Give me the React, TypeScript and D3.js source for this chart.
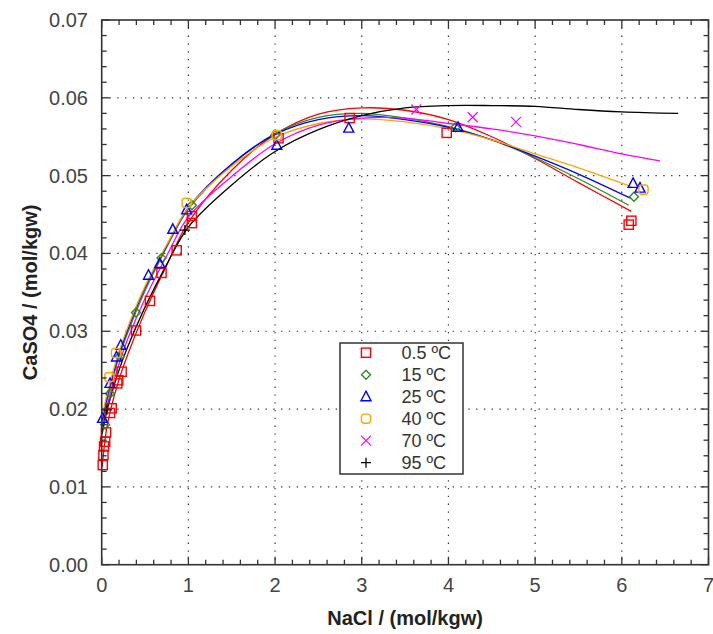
import React from "react";
import * as d3 from "d3";

const W = 713, H = 634;
const M = { left: 101.7, right: 708.5, top: 20, bottom: 564.7 };

const xTicks = [0, 1, 2, 3, 4, 5, 6, 7];
const yTicks = [0, 0.01, 0.02, 0.03, 0.04, 0.05, 0.06, 0.07];
const yTickLabels = ["0.00", "0.01", "0.02", "0.03", "0.04", "0.05", "0.06", "0.07"];

const seriesNames = ["0.5 ºC", "15 ºC", "25 ºC", "40 ºC", "70 ºC", "95 ºC"];
const seriesColors = ["#ff0000", "#2e8b22", "#0000ff", "#ffa500", "#ff00ff", "#000000"];
const seriesSymbols = ["square", "diamond", "triangle", "round", "x", "plus"];

// measured points [NaCl, CaSO4]
const pts05: [number, number][] = [
  [0.012, 0.0128], [0.02, 0.0141], [0.027, 0.0152], [0.04, 0.0158], [0.05, 0.017],
  [0.096, 0.0195], [0.115, 0.0201], [0.18, 0.0233], [0.19, 0.0237], [0.23, 0.0248],
  [0.396, 0.0301], [0.557, 0.0339], [0.69, 0.0375], [0.865, 0.0404], [1.04, 0.0439],
  [1.04, 0.0448], [2.04, 0.0548], [2.86, 0.0574], [3.98, 0.0555], [6.08, 0.0437], [6.11, 0.0442],
];
const pts15: [number, number][] = [
  [0.04, 0.018], [0.096, 0.022], [0.21, 0.0268], [0.396, 0.0324], [0.69, 0.0394],
  [1.04, 0.0462], [2.0, 0.0552], [4.08, 0.0562], [6.14, 0.0473],
];
const pts25: [number, number][] = [
  [0.01, 0.0188], [0.096, 0.0233], [0.17, 0.0267], [0.22, 0.0282], [0.54, 0.0372],
  [0.67, 0.0387], [0.82, 0.0431], [0.98, 0.0456], [2.02, 0.0539], [2.85, 0.0561],
  [4.11, 0.0562], [6.13, 0.049], [6.21, 0.0484],
];
const pts40: [number, number][] = [
  [0.088, 0.0241], [0.165, 0.0272], [0.98, 0.0465], [2.02, 0.0552], [6.25, 0.0482],
];
const pts70: [number, number][] = [
  [3.63, 0.0585], [4.28, 0.0575], [4.78, 0.0569],
];
const pts95: [number, number][] = [
  [0.06, 0.0199], [0.96, 0.043],
];
const seriesPoints = [pts05, pts15, pts25, pts40, pts70, pts95];

// model curves
const line05: [number, number][] = [
  [0.005, 0.0125], [0.05, 0.017], [0.1, 0.0198], [0.2, 0.0238], [0.3, 0.027], [0.5, 0.0325],
  [0.75, 0.0385], [1.0, 0.044], [1.5, 0.0507], [2.0, 0.0553], [2.5, 0.0579], [3.0, 0.0587],
  [3.5, 0.0584], [4.0, 0.0572], [4.5, 0.055], [5.0, 0.0522], [5.5, 0.0491], [6.11, 0.0454],
];
const line15: [number, number][] = [
  [0.005, 0.0178], [0.05, 0.0205], [0.1, 0.0228], [0.2, 0.0267], [0.3, 0.0298], [0.5, 0.0352],
  [0.75, 0.0408], [1.0, 0.0457], [1.5, 0.0514], [2.0, 0.0554], [2.5, 0.0575], [3.0, 0.058],
  [3.5, 0.0574], [4.0, 0.0563], [4.5, 0.0546], [5.0, 0.0523], [5.5, 0.0496], [6.08, 0.0462],
];
const line25: [number, number][] = [
  [0.005, 0.0185], [0.05, 0.021], [0.1, 0.0232], [0.2, 0.0271], [0.3, 0.0302], [0.5, 0.0356],
  [0.75, 0.041], [1.0, 0.0459], [1.5, 0.0515], [2.0, 0.0553], [2.5, 0.0572], [3.0, 0.0577],
  [3.5, 0.0572], [4.0, 0.0562], [4.5, 0.0546], [5.0, 0.0525], [5.5, 0.0502], [6.1, 0.0471],
];
const line40: [number, number][] = [
  [0.005, 0.019], [0.05, 0.0214], [0.1, 0.0236], [0.2, 0.0274], [0.3, 0.0305], [0.5, 0.0358],
  [0.75, 0.0411], [1.0, 0.0459], [1.5, 0.0512], [2.0, 0.0549], [2.5, 0.0567], [3.0, 0.0573],
  [3.5, 0.0569], [4.0, 0.056], [4.5, 0.0546], [5.0, 0.0528], [5.5, 0.051], [6.11, 0.0486],
];
const line70: [number, number][] = [
  [0.005, 0.0172], [0.05, 0.0198], [0.1, 0.022], [0.2, 0.0258], [0.3, 0.029], [0.5, 0.0342],
  [0.75, 0.0397], [1.0, 0.0447], [1.5, 0.0499], [2.0, 0.0541], [2.5, 0.0565], [3.0, 0.0574],
  [3.5, 0.0574], [4.0, 0.0567], [4.5, 0.056], [5.0, 0.0551], [5.5, 0.054], [6.0, 0.0528], [6.44, 0.0519],
];
const line95: [number, number][] = [
  [0.005, 0.0168], [0.05, 0.0193], [0.1, 0.0214], [0.2, 0.025], [0.3, 0.028], [0.5, 0.0331],
  [0.75, 0.0386], [1.0, 0.0434], [1.5, 0.0488], [2.0, 0.0531], [2.5, 0.0559], [3.0, 0.0577],
  [3.5, 0.0587], [4.0, 0.059], [4.5, 0.059], [5.0, 0.0589], [5.5, 0.0585], [6.0, 0.0582], [6.65, 0.058],
];
const seriesLines = [line05, line15, line25, line40, line70, line95];

const x = d3.scaleLinear().domain([0, 7]).range([M.left, M.right]);
const y = d3.scaleLinear().domain([0, 0.07]).range([M.bottom, M.top]);

function Marker({ sym, cx, cy, color }: { sym: string; cx: number; cy: number; color: string }) {
  const s = 4.6;
  const common = { fill: "none", stroke: color, strokeWidth: 1.4 };
  if (sym === "square") return <rect x={cx - s} y={cy - s} width={2 * s} height={2 * s} {...common} />;
  if (sym === "round") return <rect x={cx - s} y={cy - s} width={2 * s} height={2 * s} rx={3} {...common} />;
  if (sym === "diamond")
    return <path d={`M${cx},${cy - 4.5}L${cx + 4.5},${cy}L${cx},${cy + 4.5}L${cx - 4.5},${cy}Z`} {...common} />;
  if (sym === "triangle")
    return <path d={`M${cx},${cy - 5.5}L${cx + 5},${cy + 4}L${cx - 5},${cy + 4}Z`} {...common} />;
  if (sym === "x")
    return <path d={`M${cx - 5},${cy - 5}L${cx + 5},${cy + 5}M${cx - 5},${cy + 5}L${cx + 5},${cy - 5}`} {...common} strokeWidth={1.2} />;
  return <path d={`M${cx - 5},${cy}L${cx + 5},${cy}M${cx},${cy - 5}L${cx},${cy + 5}`} {...common} strokeWidth={1.3} />;
}

export default function App() {
  const line = d3
    .line<[number, number]>()
    .x((d) => x(d[0]))
    .y((d) => y(d[1]))
    .curve(d3.curveCatmullRom.alpha(0.5));

  const xMinor = d3.range(0, 7.0001, 0.2);
  const yMinor = d3.range(0, 0.07001, 0.002);
  const font = "'Liberation Sans', Arial, sans-serif";
  const axisColor = "#333";

  const legendX = 340, legendY = 343, legendW = 123, legendH = 131;

  return (
    <svg width={W} height={H} style={{ position: "absolute", left: 0, top: 0 }} fontFamily={font}>
      <rect width={W} height={H} fill="#fff" />
      {/* grid */}
      {xTicks.slice(1, -1).map((t) => (
        <line key={"gx" + t} x1={x(t)} x2={x(t)} y1={M.top} y2={M.bottom} stroke="#333" strokeWidth={1.2} strokeDasharray="1.3 6.5" />
      ))}
      {yTicks.slice(1, -1).map((t) => (
        <line key={"gy" + t} x1={M.left} x2={M.right} y1={y(t)} y2={y(t)} stroke="#333" strokeWidth={1.2} strokeDasharray="1.3 6.5" />
      ))}
      {/* curves */}
      {seriesLines.map((ln, i) => (
        <path key={"l" + i} d={line(ln) || ""} fill="none" stroke={seriesColors[i]} strokeWidth={1.3} />
      ))}
      {/* markers */}
      {seriesPoints.map((pts, i) =>
        pts.map((p, j) => (
          <Marker key={`m${i}-${j}`} sym={seriesSymbols[i]} cx={x(p[0])} cy={y(p[1])} color={seriesColors[i]} />
        ))
      )}
      {/* ticks */}
      {xMinor.map((t, i) => {
        const major = i % 5 === 0;
        const len = major ? 8 : 5;
        return (
          <g key={"xt" + i}>
            <line x1={x(t)} x2={x(t)} y1={M.bottom} y2={M.bottom - len} stroke={axisColor} strokeWidth={1.3} />
            <line x1={x(t)} x2={x(t)} y1={M.top} y2={M.top + len} stroke={axisColor} strokeWidth={1.3} />
          </g>
        );
      })}
      {yMinor.map((t, i) => {
        const major = i % 5 === 0;
        const len = major ? 8 : 5;
        return (
          <g key={"yt" + i}>
            <line x1={M.left} x2={M.left + len} y1={y(t)} y2={y(t)} stroke={axisColor} strokeWidth={1.3} />
            <line x1={M.right} x2={M.right - len} y1={y(t)} y2={y(t)} stroke={axisColor} strokeWidth={1.3} />
          </g>
        );
      })}
      <rect x={M.left} y={M.top} width={M.right - M.left} height={M.bottom - M.top} fill="none" stroke={axisColor} strokeWidth={1.6} />
      {/* tick labels */}
      {xTicks.map((t) => (
        <text key={"xl" + t} x={x(t)} y={592} textAnchor="middle" fontSize={20} fill="#444">
          {t}
        </text>
      ))}
      {yTicks.map((t, i) => (
        <text key={"yl" + t} x={88} y={y(t) + 7} textAnchor="end" fontSize={20} fill="#444">
          {yTickLabels[i]}
        </text>
      ))}
      {/* axis titles */}
      <text x={(M.left + M.right) / 2} y={625} textAnchor="middle" fontSize={20} fontWeight="bold" fill="#222">
        NaCl / (mol/kgw)
      </text>
      <text
        transform={`translate(37,${(M.top + M.bottom) / 2}) rotate(-90)`}
        textAnchor="middle"
        fontSize={20}
        fontWeight="bold"
        fill="#222"
      >
        CaSO4 / (mol/kgw)
      </text>
      {/* legend */}
      <rect x={legendX} y={legendY} width={legendW} height={legendH} fill="#fff" stroke="#333" strokeWidth={1.5} />
      {seriesNames.map((n, i) => {
        const cy = 352.7 + i * 22;
        return (
          <g key={"lg" + i}>
            <Marker sym={seriesSymbols[i]} cx={366} cy={cy} color={seriesColors[i]} />
            <text x={401.5} y={cy + 6.5} fontSize={18} fill="#333">
              {n}
            </text>
          </g>
        );
      })}
    </svg>
  );
}
